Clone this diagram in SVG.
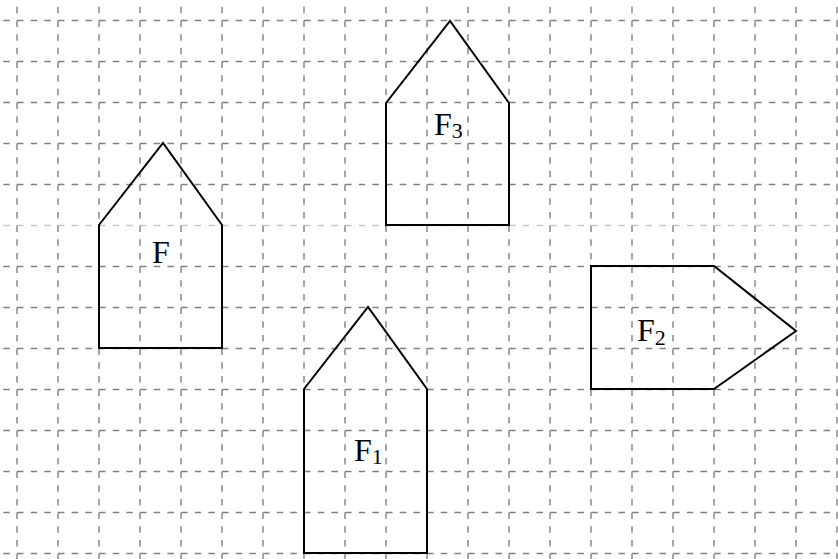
<svg xmlns="http://www.w3.org/2000/svg" width="838" height="559" viewBox="0 0 838 559">
<style>
.h{stroke:#808080;stroke-width:1.4;stroke-dasharray:6.5 7.17;fill:none}
.hl{stroke:#c8c8c8;stroke-width:1.3;stroke-dasharray:6.5 7.17;fill:none}
.v{stroke:#808080;stroke-width:1.4;stroke-dasharray:6.5 7.17;fill:none}
.shape{fill:none;stroke:#000;stroke-width:2;stroke-linejoin:miter}
.lbl{font-family:"Liberation Serif","Times New Roman",serif;font-size:32px;fill:#000}
.sub{font-size:22px}
</style>
<rect width="838" height="559" fill="#fff"/>
<g id="grid">
<path class="h" d="M3.33 20.5H838M3.33 61.5H838M3.33 102.5H838M3.33 143.5H838M3.33 184.5H838M3.33 266.5H838M3.33 307.5H838M3.33 348.5H838M3.33 389.5H838M3.33 430.5H838M3.33 471.5H838M3.33 512.5H838M3.33 553.5H838"/>
<path class="hl" d="M3.33 225.5H838"/>
<path class="v" d="M17 6.83V559M58 6.83V559M99 6.83V559M140 6.83V559M181 6.83V559M222 6.83V559M263 6.83V559M304 6.83V559M345 6.83V559M386 6.83V559M427 6.83V559M468 6.83V559M509 6.83V559M550 6.83V559M591 6.83V559M632 6.83V559M673 6.83V559M714 6.83V559M755 6.83V559M796 6.83V559M837 6.83V559"/>
</g>
<g id="F">
<polygon class="shape" points="99,225 163,143 222,225 222,348 99,348"/>
<text class="lbl" x="152" y="263">F</text>
</g>
<g id="F3">
<polygon class="shape" points="386,103 450,21 509,103 509,225 386,225"/>
<text class="lbl" x="434" y="135">F<tspan class="sub" dy="3">3</tspan></text>
</g>
<g id="F1">
<polygon class="shape" points="304,389 368,307 427,389 427,553 304,553"/>
<text class="lbl" x="354" y="461">F<tspan class="sub" dy="3">1</tspan></text>
</g>
<g id="F2">
<polygon class="shape" points="591,266 714,266 796,331 714,389 591,389"/>
<text class="lbl" x="637" y="341">F<tspan class="sub" dy="4">2</tspan></text>
</g>
<g id="connectors"></g>
</svg>
